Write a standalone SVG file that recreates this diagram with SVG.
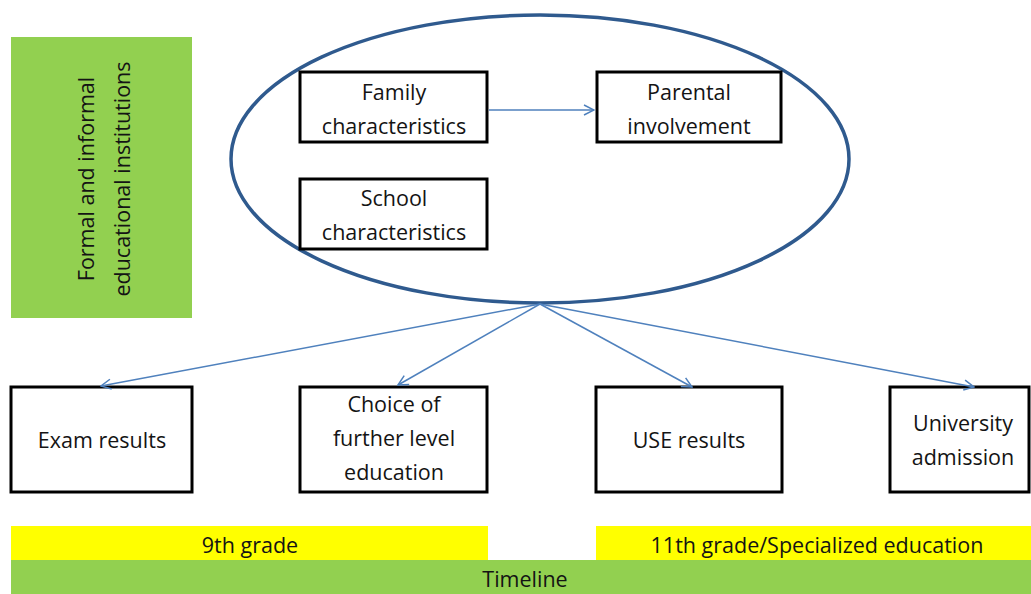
<svg xmlns="http://www.w3.org/2000/svg" width="1031" height="594" viewBox="0 0 1031 594">
<style>
.t{font-family:"Open Sans","Liberation Sans",sans-serif;font-size:21.5px;fill:#141414;text-anchor:middle}
.box{fill:#fff;stroke:#000;stroke-width:3}
.con{stroke:#4F81BD;stroke-width:1.5;fill:none}
</style>
<defs>
<marker id="ah" viewBox="0 0 12 12" refX="11" refY="6" markerWidth="12" markerHeight="12" markerUnits="userSpaceOnUse" orient="auto">
<path d="M1,1 L11,6 L1,11" fill="none" stroke="#4F81BD" stroke-width="1.5"/>
</marker>
</defs>
<rect width="1031" height="594" fill="#fff"/>
<g id="institutions">
<rect x="11" y="37" width="181" height="281" fill="#92D050"/>
<text class="t" transform="translate(94,179) rotate(-90)">Formal and informal</text>
<text class="t" transform="translate(130,179) rotate(-90)">educational institutions</text>
</g>
<g id="ellipse">
<ellipse cx="540" cy="159" rx="309" ry="144" fill="none" stroke="#2F5A8E" stroke-width="3.5"/>
</g>
<g id="family">
<rect class="box" x="300" y="72" width="187" height="70"/>
<text class="t" x="394" y="100">Family</text>
<text class="t" x="394" y="134">characteristics</text>
</g>
<g id="parental">
<rect class="box" x="597" y="72" width="184" height="70"/>
<text class="t" x="689" y="100">Parental</text>
<text class="t" x="689" y="134">involvement</text>
</g>
<g id="school">
<rect class="box" x="300" y="179" width="187" height="70"/>
<text class="t" x="394" y="206">School</text>
<text class="t" x="394" y="240">characteristics</text>
</g>
<g id="exam">
<rect class="box" x="11" y="387" width="181" height="105"/>
<text class="t" x="102" y="448">Exam results</text>
</g>
<g id="choice">
<rect class="box" x="300" y="387" width="187" height="105"/>
<text class="t" x="394" y="412">Choice of</text>
<text class="t" x="394" y="446">further level</text>
<text class="t" x="394" y="480">education</text>
</g>
<g id="use">
<rect class="box" x="596" y="387" width="186" height="105"/>
<text class="t" x="689" y="448">USE results</text>
</g>
<g id="university">
<rect class="box" x="890" y="387" width="139" height="105"/>
<text class="t" x="963" y="431">University</text>
<text class="t" x="963" y="465">admission</text>
</g>
<g id="grade9">
<rect x="11" y="526" width="477" height="34" fill="#FFFF00"/>
<text class="t" x="250" y="553">9th grade</text>
</g>
<g id="grade11">
<rect x="596" y="526" width="435" height="34" fill="#FFFF00"/>
<text class="t" x="817" y="553">11th grade/Specialized education</text>
</g>
<g id="timeline">
<rect x="11" y="560" width="1020" height="34" fill="#92D050"/>
<text class="t" x="525" y="587">Timeline</text>
</g>
<g id="connectors">
<line class="con" x1="489" y1="110" x2="594" y2="110" marker-end="url(#ah)"/>
<line class="con" x1="540" y1="304" x2="101" y2="386" marker-end="url(#ah)"/>
<line class="con" x1="540" y1="304" x2="398" y2="385" marker-end="url(#ah)"/>
<line class="con" x1="540" y1="304" x2="692" y2="387" marker-end="url(#ah)"/>
<line class="con" x1="540" y1="304" x2="974" y2="387" marker-end="url(#ah)"/>
</g>
</svg>
